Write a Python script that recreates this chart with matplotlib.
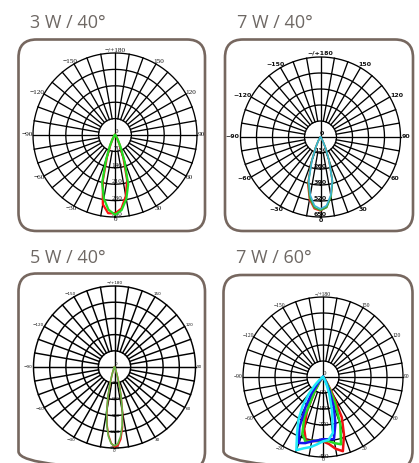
import numpy as np
import matplotlib
matplotlib.use("Agg")
import matplotlib.pyplot as plt
from matplotlib.patches import FancyBboxPatch

W, H = 419, 463

# ---------------- data ----------------
titles = ["3 W / 40°", "7 W / 40°", "5 W / 40°", "7 W / 60°"]

ang_label_deg = [0, 30, 60, 90, 120, 150, 180, -150, -120, -90, -60, -30]
ang_label_txt = ["0", "30", "60", "90", "120", "150", "\u2212/+180",
                 "\u2212150", "\u2212120", "\u221290", "\u221260", "\u221230"]

# radial ring labels (cd)
rings_p1 = [0, 70, 140, 210, 280, 350]
rings_p2 = [0, 130, 260, 390, 520, 650]
rings_p3 = [0, 300, 600, 900, 1200, 1500]
rings_p4 = [0, 90, 180, 270, 360, 450]

# angles in degrees (0 = downwards, positive = right side)
ang_a = [-60, -55, -50, -45, -40, -35, -30, -25, -20, -15, -10, -5, 0,
         5, 10, 15, 20, 25, 30, 35, 40, 45, 50, 55, 60]
ang_b = [-40, -37.5, -35, -32.5, -30, -27.5, -25, -22.5, -20, -17.5, -15, -12.5, -10,
         -7.5, -5, -2.5, 0, 2.5, 5, 7.5, 10, 12.5, 15, 17.5, 20, 22.5, 25, 27.5,
         30, 32.5, 35, 37.5, 40]

# 3 W / 40°
p1_red = [0, 1, 2, 4, 7, 11, 21, 46, 100, 200, 300, 335, 335, 315, 265, 200, 105, 48, 22, 12, 6, 4, 2, 1, 0]
p1_green = [0, 1, 2, 4, 7, 12, 24, 52, 112, 212, 275, 320, 340, 322, 278, 218, 118, 55, 25, 13, 7, 4, 2, 1, 0]

# 7 W / 40°
p2_red = [0, 0, 1, 2, 6, 15, 36, 94, 218, 398, 515, 585, 600, 572, 487, 372, 202, 88, 34, 13, 5, 2, 1, 0, 0]
p2_green = [0, 0, 1, 2, 6, 14, 35, 92, 212, 385, 502, 575, 596, 575, 494, 378, 208, 92, 36, 14, 6, 2, 1, 0, 0]
p2_cyan = [0, 0, 1, 2, 6, 14, 35, 90, 205, 370, 480, 560, 585, 560, 480, 370, 205, 90, 35, 14, 6, 2, 1, 0, 0]

# 5 W / 40°
p3_red = [0, 0, 1, 2, 5, 9, 18, 37, 80, 160, 315, 540, 820, 1070, 1270, 1410, 1480,
          1460, 1340, 1130, 860, 570, 340, 175, 88, 42, 20, 10, 5, 2, 1, 0, 0]
p3_green = [0, 0, 1, 2, 5, 10, 20, 40, 85, 170, 330, 560, 840, 1090, 1290, 1420, 1460,
            1420, 1290, 1090, 840, 560, 330, 170, 85, 40, 20, 10, 5, 2, 1, 0, 0]

# 7 W / 60°
p4_red = [0, 0, 0, 4, 12, 35, 92, 215, 310, 372, 365, 362, 362, 378, 410, 432, 345, 250, 95, 35, 12, 4, 0, 0, 0]
p4_green = [0, 0, 0, 4, 12, 35, 95, 250, 340, 378, 365, 360, 360, 362, 378, 392, 285, 160, 65, 25, 8, 3, 0, 0, 0]
p4_blue = [0, 0, 5, 15, 40, 110, 200, 315, 395, 385, 368, 358, 350, 352, 355, 270, 175, 85, 35, 12, 4, 0, 0, 0, 0]
p4_cyan = [3, 10, 30, 65, 125, 200, 275, 345, 438, 415, 400, 380, 362, 355, 320, 195, 105, 50, 20, 7, 0, 0, 0, 0, 0]

# ---------------- styling / layout ----------------
BOX_COLOR = "#76675f"
TITLE_COLOR = "#6e6864"

panels = [
    dict(title=titles[0], tx=30, ty=28, box=(18.5, 39.5, 186.5, 191.5),
         c=(115, 135, 82), rings=rings_p1, ang=ang_a,
         series=[(p1_red, "#ff1010"), (p1_green, "#22dd22")], lw=1.6,
         afont=dict(family="Liberation Serif", size=5.2, weight="normal"), acw=0.5, apad=0.2,
         rfont=dict(family="Liberation Serif", size=5.2, weight="normal"), rva="bottom", rdx=1.5, rdy=0.0,
         glw=0.95),
    dict(title=titles[1], tx=237, ty=28, box=(225, 39.5, 188, 191.5),
         c=(320.5, 137, 80), rings=rings_p2, ang=ang_a,
         series=[(p2_red, "#ee2a1a"), (p2_green, "#3aa83a"), (p2_cyan, "#3bb4d4")], lw=1.2,
         afont=dict(family="DejaVu Sans", size=4.5, weight="bold"), acw=0.68, apad=1.0,
         rfont=dict(family="DejaVu Sans", size=4.6, weight="bold"), rva="bottom", rdx=0.0, rdy=0.0,
         glw=0.95),
    dict(title=titles[2], tx=30, ty=263, box=(18.5, 273.5, 186.5, 196),
         c=(114.5, 367, 81), rings=rings_p3, ang=ang_b,
         series=[(p3_red, "#e8201a"), (p3_green, "#62b444")], lw=1.2,
         afont=dict(family="DejaVu Sans", size=3.0, weight="normal"), acw=0.64, apad=1.0,
         rfont=dict(family="DejaVu Sans", size=3.0, weight="normal"), rva="center", rdx=0.5, rdy=0.0,
         glw=1.05),
    dict(title=titles[3], tx=236, ty=263, box=(223.5, 275, 189, 194),
         c=(323, 377, 80), rings=rings_p4, ang=ang_a,
         series=[(p4_red, "#ee1111"), (p4_green, "#22dd22"), (p4_blue, "#1414ee"), (p4_cyan, "#1ee8f8")],
         lw=1.8,
         afont=dict(family="Liberation Serif", size=4.0, weight="normal"), acw=0.5, apad=0.6,
         rfont=dict(family="Liberation Serif", size=5.0, weight="normal"), rva="center", rdx=0.5, rdy=0.5,
         glw=0.95),
]

fig = plt.figure(figsize=(W / 100, H / 100), dpi=100)
fig.patch.set_facecolor("white")

# background axes in pixel coordinates for boxes and titles
bg = fig.add_axes([0, 0, 1, 1])
bg.set_xlim(0, W)
bg.set_ylim(H, 0)
bg.axis("off")

for p in panels:
    x, y, w, h = p["box"]
    bg.add_patch(FancyBboxPatch((x, y), w, h, boxstyle="round,pad=0,rounding_size=18",
                                fill=False, ec=BOX_COLOR, lw=1.9, clip_on=False))
    bg.text(p["tx"], p["ty"], p["title"], fontsize=13, family="Open Sans",
            color=TITLE_COLOR, va="baseline", ha="left")

for p in panels:
    cx, cy, R = p["c"]
    ax = fig.add_axes([(cx - R) / W, 1 - (cy + R) / H, 2 * R / W, 2 * R / H],
                      projection="polar")
    ax.set_theta_zero_location("S")
    ax.set_theta_direction(1)
    rings = p["rings"]
    step = rings[1]
    rmax = rings[-1]
    ax.set_rlim(0, rmax)
    ax.grid(False)
    ax.set_xticks([])
    ax.set_yticks([])
    ax.spines["polar"].set_visible(False)
    ax.patch.set_alpha(0)

    glw = p["glw"]
    th = np.linspace(0, 2 * np.pi, 721)
    for rv in rings[1:]:
        ax.plot(th, np.full_like(th, rv), color="black", lw=glw, clip_on=False, zorder=1)
    for a in range(0, 360, 10):
        t = np.deg2rad(a)
        r0 = 0 if a % 90 == 0 else step
        ax.plot([t, t], [r0, rmax], color="black", lw=glw, clip_on=False, zorder=1)

    # angular labels
    af = p["afont"]
    fs = af["size"]
    for a, txt in zip(ang_label_deg, ang_label_txt):
        t = np.deg2rad(a)
        wpt = len(txt) * p["acw"] * fs
        hpt = 0.72 * fs
        sx, sy = np.sin(t), -np.cos(t)
        off = (sx * (wpt / 2 + p["apad"]), sy * (hpt / 2 + p["apad"]))
        ax.annotate(txt, xy=(t, rmax), xytext=off, textcoords="offset points",
                    ha="center", va="center", fontsize=fs, family=af["family"],
                    fontweight=af["weight"], color="#111111", annotation_clip=False, zorder=2)

    # radial labels along the 0° axis
    rf = p["rfont"]
    for rv in rings:
        if rv == 0:
            ax.annotate("0", xy=(0, 0), xytext=(1.0, 0.8), textcoords="offset points",
                        ha="center", va="bottom", fontsize=rf["size"], family=rf["family"],
                        fontweight=rf["weight"], color="#111111", annotation_clip=False, zorder=2)
        else:
            ax.annotate(str(rv), xy=(0, rv), xytext=(p["rdx"], p["rdy"]), textcoords="offset points",
                        ha="center", va=p["rva"], fontsize=rf["size"], family=rf["family"],
                        fontweight=rf["weight"], color="#111111", annotation_clip=False, zorder=2)

    ang = np.deg2rad(np.array(p["ang"], dtype=float))
    for vals, col in p["series"]:
        ax.plot(ang, vals, color=col, lw=p["lw"], zorder=3, clip_on=False,
                solid_joinstyle="round")

fig.savefig("out.png", dpi=100, facecolor="white")
